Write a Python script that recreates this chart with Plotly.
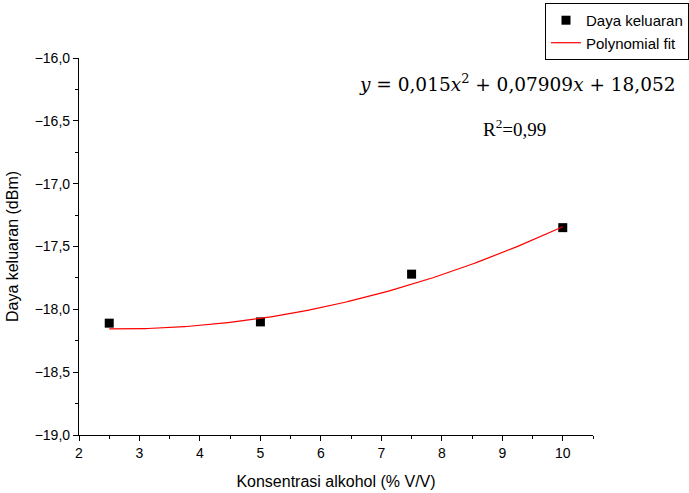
import numpy as np
import plotly.graph_objects as go

# Measured output power vs alcohol concentration
konsentrasi = [2.5, 5.0, 7.5, 10.0]
daya = [-18.11, -18.10, -17.72, -17.35]

# Quadratic fit coefficients (highest order first)
fit_coef = [0.015, -0.07909, -18.052]
x_fit = np.linspace(2.5, 10.0, 200)
y_fit = np.polyval(fit_coef, x_fit)

x_ticks = [2, 3, 4, 5, 6, 7, 8, 9, 10]
y_ticks = [-19.0, -18.5, -18.0, -17.5, -17.0, -16.5, -16.0]

fig = go.Figure()
fig.add_trace(go.Scatter(
    x=konsentrasi, y=daya, mode="markers", name="Daya keluaran",
    marker=dict(symbol="square", size=9, color="black"),
))
fig.add_trace(go.Scatter(
    x=x_fit, y=y_fit, mode="lines", name="Polynomial fit",
    line=dict(color="red", width=1.2),
))

sans = "Liberation Sans, Arial"
serif = "DejaVu Serif, Liberation Serif"

axis_common = dict(
    showline=True, linecolor="black", linewidth=1.2, mirror=False,
    ticks="outside", ticklen=5, tickwidth=1.2, tickcolor="black",
    showgrid=False, zeroline=False,
    tickfont=dict(family=sans, size=14, color="black"),
)

fig.update_layout(
    width=689, height=493,
    margin=dict(l=79, r=96, t=58, b=58, autoexpand=False),
    paper_bgcolor="white", plot_bgcolor="white",
    separators=",.",
    showlegend=True,
    legend=dict(
        x=(689 - 79) / 514, y=0.994, xref="paper", yref="container",
        xanchor="right", yanchor="top",
        bordercolor="black", borderwidth=1, bgcolor="white",
        font=dict(family=sans, size=15, color="black"),
        tracegroupgap=0, itemwidth=30,
    ),
    xaxis=dict(
        range=[2, 10.5], tickvals=x_ticks,
        minor=dict(dtick=0.5, ticks="outside", ticklen=3, tickwidth=1.2, tickcolor="black"),
        title=dict(text="Konsentrasi alkohol (% V/V)",
                   font=dict(family=sans, size=16, color="black"),
                   standoff=15),
        **axis_common,
    ),
    yaxis=dict(
        range=[-19, -16], tickvals=y_ticks, tickformat=".1f",
        minor=dict(dtick=0.25, ticks="outside", ticklen=3, tickwidth=1.2, tickcolor="black"),
        title=dict(text="Daya keluaran (dBm)",
                   font=dict(family=sans, size=16, color="black"),
                   standoff=12),
        **axis_common,
    ),
    annotations=[
        dict(x=(357 - 79) / 514, y=(435 - 83) / 377, xref="paper", yref="paper",
             xanchor="left", yanchor="middle", showarrow=False,
             text="<i>y</i> = 0,015<i>x</i><sup>2</sup> + 0,07909<i>x</i> + 18,052",
             font=dict(family=serif, size=18.5, color="black")),
        dict(x=(514 - 79) / 514, y=(435 - 128) / 377, xref="paper", yref="paper",
             xanchor="center", yanchor="middle", showarrow=False,
             text="R<sup>2</sup>=0,99",
             font=dict(family="Liberation Serif, Times New Roman", size=19, color="black")),
    ],
)

fig.write_html("out.html")
